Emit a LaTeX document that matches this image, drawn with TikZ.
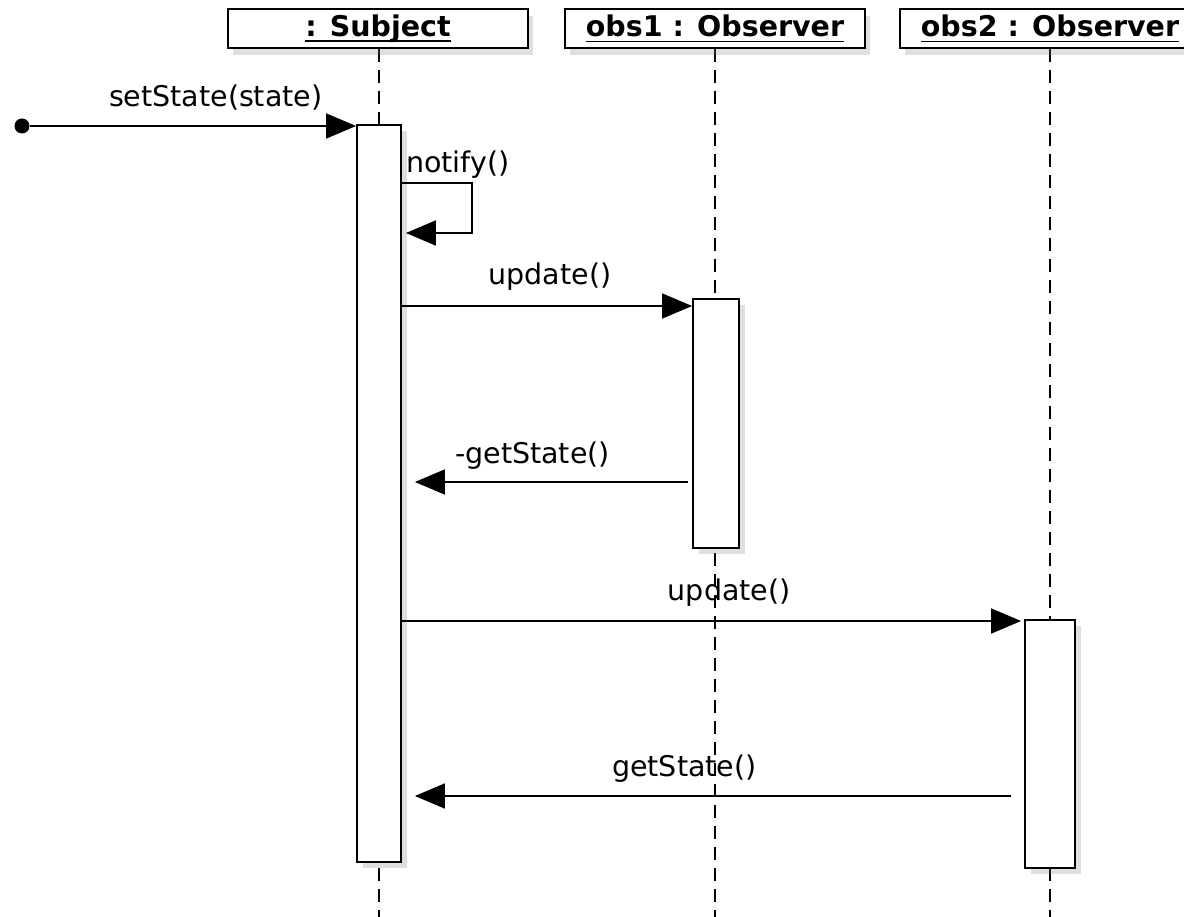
\documentclass[tikz,border=0pt]{standalone}
\usepackage{fontspec}
\setmainfont{DejaVu Sans}
\usetikzlibrary{arrows.meta,shadows,backgrounds}
\newcommand{\dfont}{\fontsize{28.5}{34}\selectfont}
\newcommand{\ulname}[1]{\setbox0\hbox{#1}\rlap{\rule[-6pt]{\wd0}{1.8pt}}\box0}
\tikzset{
	head/.style={draw, line width=1.8pt, fill=white, inner sep=0pt, minimum width=300pt, minimum height=39pt,
		drop shadow={opacity=.25, shadow xshift=5pt, shadow yshift=-7pt}, font=\dfont\bfseries},
	bar/.style={draw, line width=1.8pt, fill=white, inner sep=0pt,
		drop shadow={opacity=.25, shadow xshift=6pt, shadow yshift=-6pt}},
	life/.style={line width=1.6pt, dash pattern=on 13pt off 8pt},
	msg/.style={line width=1.6pt, -{Triangle[length=30pt,width=25pt]}},
	lbl/.style={anchor=base, inner sep=0pt, font=\dfont},
	dot/.style={circle, fill=black, minimum size=15pt, inner sep=0pt}
}
\begin{document}
\begin{tikzpicture}[x=1pt, y=-1pt]
		\useasboundingbox (0,0) rectangle (1184,917);
		\coordinate (bot) at (0,917);
		%%%
		\node[head] (subj) at (378,28.5) {\ulname{: Subject}};
		\node[head] (obs1) at (715,28.5) {\ulname{obs1 : Observer}};
		\node[head] (obs2) at (1050,28.5) {\ulname{obs2 : Observer}};
		%%%
		\node[bar, minimum width=44pt, minimum height=737pt] (sact) at (379,493.5) {};
		\node[bar, minimum width=46pt, minimum height=249pt] (oact) at (716,423.5) {};
		\node[bar, minimum width=50pt, minimum height=248pt] (tact) at (1050,744) {};
		%%%
		\begin{pgfonlayer}{background}
			\draw[life] (sact |- subj.south) -- (sact |- bot);
			\draw[life] (obs1.south) -- (obs1.south |- bot);
			\draw[life] (obs2.south) -- (obs2.south |- bot);
		\end{pgfonlayer}
		%%%
		\node[dot] (start) at (22,126) {};
		\draw[msg] (start) -- (start -| sact.west) node[lbl, pos=.57, yshift=19pt] (lset) {setState(state)};
		%%%
		\draw[msg, shorten >=4pt] (sact.east |- 0,183) -| (472,233) -- (sact.east |- 0,233);
		\node[lbl, anchor=base west] (lnot) at (406,173) {notify()};
		%%%
		\draw[msg] (sact.east |- 0,306) -- (oact.west |- 0,306) node[lbl, pos=.51, yshift=21pt] (lup1) {update()};
		\draw[msg, shorten <=4pt, shorten >=13pt] (oact.west |- 0,482) -- (sact.east |- 0,482) node[lbl, pos=.55, yshift=19pt] (lget1) {-getState()};
		%%%
		\draw[msg, shorten >=3pt] (sact.east |- 0,621) -- (tact.west |- 0,621) node[lbl, pos=.526, yshift=21pt] (lup2) {update()};
		\draw[msg, shorten <=13pt, shorten >=13pt] (tact.west |- 0,796) -- (sact.east |- 0,796) node[lbl, pos=.546, yshift=20pt] (lget2) {getState()};
\end{tikzpicture}
\end{document}
